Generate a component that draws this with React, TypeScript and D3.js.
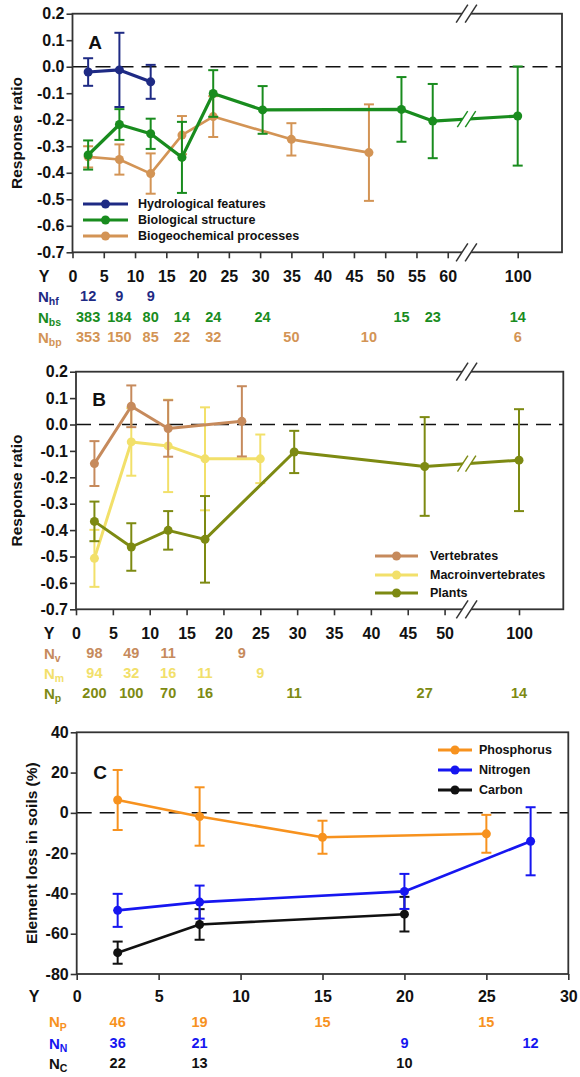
import { useEffect, useRef } from "react";
import * as d3 from "d3";

// ---------- Panel A: response ratio by ecosystem attribute ----------
const aTicksX = [0, 5, 10, 15, 20, 25, 30, 35, 40, 45, 50, 55, 60, 100];
const aTicksY = [-0.7, -0.6, -0.5, -0.4, -0.3, -0.2, -0.1, 0, 0.1, 0.2];

const hfYears = [2.5, 7.5, 12.5];
const hfMean = [-0.02, -0.012, -0.057];
const hfErr = [0.052, 0.14, 0.064];

const bsYears = [2.5, 7.5, 12.5, 17.5, 22.5, 30.4, 52.6, 57.6, 100];
const bsMean = [-0.333, -0.218, -0.253, -0.342, -0.101, -0.163, -0.161, -0.205, -0.186];
const bsErr = [0.055, 0.058, 0.057, 0.134, 0.088, 0.09, 0.122, 0.14, 0.187];

const bpYears = [2.5, 7.5, 12.5, 17.5, 22.5, 35, 47.4];
const bpMean = [-0.34, -0.35, -0.403, -0.258, -0.188, -0.274, -0.324];
const bpErr = [0.04, 0.057, 0.076, 0.072, 0.077, 0.061, 0.182];

const nHf = ["12", "9", "9"];
const nBs = ["383", "184", "80", "14", "24", "24", "15", "23", "14"];
const nBpYears = [2.5, 7.5, 12.5, 17.5, 22.5, 35, 47.4, 100];
const nBp = ["353", "150", "85", "22", "32", "50", "10", "6"];

// ---------- Panel B: response ratio by taxon ----------
const bTicksX = [0, 5, 10, 15, 20, 25, 30, 35, 40, 45, 50, 100];
const bTicksY = aTicksY;

const vYears = [2.5, 7.5, 12.5, 22.5];
const vMean = [-0.148, 0.069, -0.015, 0.012];
const vErr = [0.085, 0.079, 0.107, 0.133];

const mYears = [2.5, 7.5, 12.5, 17.5, 25];
const mMean = [-0.507, -0.066, -0.081, -0.13, -0.13];
const mErr = [0.108, 0.128, 0.175, 0.195, 0.092];

const pYears = [2.5, 7.5, 12.5, 17.5, 29.6, 47.3, 100];
const pMean = [-0.367, -0.464, -0.401, -0.435, -0.104, -0.159, -0.135];
const pErr = [0.075, 0.09, 0.073, 0.164, 0.08, 0.187, 0.193];

const nV = ["98", "49", "11", "9"];
const nM = ["94", "32", "16", "11", "9"];
const nP = ["200", "100", "70", "16", "11", "27", "14"];

// ---------- Panel C: element loss in soils ----------
const cTicksX = [0, 5, 10, 15, 20, 25, 30];
const cTicksY = [-80, -60, -40, -20, 0, 20, 40];

const phYears = [2.5, 7.5, 15, 25];
const phMean = [6.4, -1.8, -12.1, -10.4];
const phErr = [14.9, 14.5, 8.2, 9.4];

const niYears = [2.5, 7.5, 20, 27.7];
const niMean = [-48.4, -44.3, -39, -14.1];
const niErr = [8.2, 8.2, 8.7, 16.9];

const caYears = [2.5, 7.5, 20];
const caMean = [-69.4, -55.4, -50.3];
const caErr = [5.5, 7.6, 8.6];

const nPh = ["46", "19", "15", "15"];
const nNi = ["36", "21", "9", "12"];
const nCa = ["22", "13", "10"];

const FONT = "'Liberation Sans', Arial, Helvetica, sans-serif";

interface Series {
  name: string;
  color: string;
  years: number[];
  mean: number[];
  err: number[];
  lw: number;
}

interface NRow {
  sub: string;
  color: string;
  at: number[];
  labels: string[];
  y: number;
}

interface Panel {
  x: d3.ScaleLinear<number, number>;
  y: d3.ScaleLinear<number, number>;
  xTicks: number[];
  yTicks: number[];
  yFmt: (d: number) => string;
  breakAt?: number;
  series: Series[];
  legend: Series[];
  leg: { x1: number; x2: number; tx: number; ys: number[] };
  letter: string;
  letterPos: [number, number];
  yTitle: string;
  yTitleX: number;
  xPad: number;
  yLabelX: number;
  nX: number;
  nRows: NRow[];
}

const drawBreak = (g: any, cx: number, cy: number, color: string, sw: number, h: number, gap: number) => {
  const dx = h * 0.65;
  const pts = [
    [cx - gap / 2 - dx / 2, cy + h / 2],
    [cx - gap / 2 + dx / 2, cy - h / 2],
    [cx + gap / 2 + dx / 2, cy - h / 2],
    [cx + gap / 2 - dx / 2, cy + h / 2],
  ];
  g.append("polygon").attr("points", pts.map((p) => p.join(",")).join(" ")).attr("fill", "white");
  [-gap / 2, gap / 2].forEach((o) =>
    g
      .append("line")
      .attr("x1", cx + o - dx / 2)
      .attr("y1", cy + h / 2)
      .attr("x2", cx + o + dx / 2)
      .attr("y2", cy - h / 2)
      .attr("stroke", color)
      .attr("stroke-width", sw)
  );
};

const drawPanel = (root: any, p: Panel) => {
  const g = root.append("g");
  const xr = p.x.range();
  const x0 = xr[0];
  const x1 = xr[xr.length - 1];
  const [yb, yt] = p.y.range();

  // zero line
  g.append("line")
    .attr("x1", x0)
    .attr("x2", x1)
    .attr("y1", p.y(0))
    .attr("y2", p.y(0))
    .attr("stroke", "#111")
    .attr("stroke-width", 1.5)
    .attr("stroke-dasharray", "15 8");

  // frame
  g.append("rect")
    .attr("x", x0)
    .attr("y", yt)
    .attr("width", x1 - x0)
    .attr("height", yb - yt)
    .attr("fill", "none")
    .attr("stroke", "#333")
    .attr("stroke-width", 1.8);

  // x axis
  const ax = g
    .append("g")
    .attr("transform", `translate(0,${yb})`)
    .call(d3.axisBottom(p.x).tickValues(p.xTicks).tickSize(6).tickPadding(p.xPad).tickFormat((d) => String(d)));
  ax.select(".domain").remove();
  ax.selectAll("line").attr("stroke", "#333").attr("stroke-width", 1.6);
  ax.attr("font-family", FONT).attr("font-size", 16).attr("font-weight", "bold");
  ax.selectAll("text").attr("fill", "#111");

  // y axis
  const ay = g
    .append("g")
    .attr("transform", `translate(${x0},0)`)
    .call(d3.axisLeft(p.y).tickValues(p.yTicks).tickSize(6).tickPadding(2).tickFormat((d) => p.yFmt(d as number)));
  ay.select(".domain").remove();
  ay.selectAll("line").attr("stroke", "#333").attr("stroke-width", 1.6);
  ay.attr("font-family", FONT).attr("font-size", 16).attr("font-weight", "bold");
  ay.selectAll("text").attr("fill", "#111");

  // axis breaks on the frame
  if (p.breakAt !== undefined) {
    const bx = p.x(p.breakAt);
    drawBreak(g, bx, yt, "#333", 1.5, 18, 9);
    drawBreak(g, bx, yb, "#333", 1.5, 18, 9);
  }

  // series
  p.series.forEach((s) => {
    const pts = s.years.map((yr, i) => [p.x(yr), p.y(s.mean[i])] as [number, number]);
    g.append("path")
      .attr("d", d3.line()(pts))
      .attr("fill", "none")
      .attr("stroke", s.color)
      .attr("stroke-width", s.lw)
      .attr("stroke-linejoin", "round");

    if (p.breakAt !== undefined) {
      const b = p.breakAt;
      const i = s.years.findIndex((yr, k) => yr < b && s.years[k + 1] > b);
      if (i >= 0) {
        const bx = p.x(b);
        const t = (bx - pts[i][0]) / (pts[i + 1][0] - pts[i][0]);
        const by = pts[i][1] + t * (pts[i + 1][1] - pts[i][1]);
        drawBreak(g, bx, by, s.color, 1.4, 16, 8);
      }
    }

    const eb = g.append("g").attr("stroke", s.color).attr("stroke-width", 2);
    s.years.forEach((yr, i) => {
      const cx = p.x(yr);
      const top = p.y(s.mean[i] + s.err[i]);
      const bot = p.y(s.mean[i] - s.err[i]);
      eb.append("line").attr("x1", cx).attr("x2", cx).attr("y1", top).attr("y2", bot);
      eb.append("line").attr("x1", cx - 5).attr("x2", cx + 5).attr("y1", top).attr("y2", top);
      eb.append("line").attr("x1", cx - 5).attr("x2", cx + 5).attr("y1", bot).attr("y2", bot);
    });

    g.append("g")
      .selectAll("circle")
      .data(pts)
      .join("circle")
      .attr("cx", (d) => d[0])
      .attr("cy", (d) => d[1])
      .attr("r", 4.5)
      .attr("fill", s.color);
  });

  // legend
  p.legend.forEach((s, i) => {
    const y = p.leg.ys[i];
    g.append("line")
      .attr("x1", p.leg.x1)
      .attr("x2", p.leg.x2)
      .attr("y1", y)
      .attr("y2", y)
      .attr("stroke", s.color)
      .attr("stroke-width", 3);
    g.append("circle")
      .attr("cx", (p.leg.x1 + p.leg.x2) / 2)
      .attr("cy", y)
      .attr("r", 4.5)
      .attr("fill", s.color);
    g.append("text")
      .attr("x", p.leg.tx)
      .attr("y", y)
      .attr("dy", "0.35em")
      .attr("font-family", FONT)
      .attr("font-size", 12.5)
      .attr("font-weight", "bold")
      .attr("fill", "#111")
      .text(s.name);
  });

  // panel letter
  g.append("text")
    .attr("x", p.letterPos[0])
    .attr("y", p.letterPos[1])
    .attr("dy", "0.35em")
    .attr("text-anchor", "middle")
    .attr("font-family", FONT)
    .attr("font-size", 19)
    .attr("font-weight", "bold")
    .attr("fill", "#111")
    .text(p.letter);

  // y title
  g.append("text")
    .attr("transform", `translate(${p.yTitleX},${(yt + yb) / 2}) rotate(-90)`)
    .attr("dy", "0.35em")
    .attr("text-anchor", "middle")
    .attr("font-family", FONT)
    .attr("font-size", 15.5)
    .attr("font-weight", "bold")
    .attr("fill", "#111")
    .text(p.yTitle);

  // "Y" row label
  const tickRowY = yb + 6 + p.xPad + 5.6;
  g.append("text")
    .attr("x", p.yLabelX)
    .attr("y", tickRowY)
    .attr("dy", "0.35em")
    .attr("text-anchor", "middle")
    .attr("font-family", FONT)
    .attr("font-size", 16)
    .attr("font-weight", "bold")
    .attr("fill", "#111")
    .text("Y");

  // sample size rows
  p.nRows.forEach((r) => {
    const t = g
      .append("text")
      .attr("x", p.nX)
      .attr("y", r.y)
      .attr("dy", "0.35em")
      .attr("font-family", FONT)
      .attr("font-weight", "bold")
      .attr("fill", r.color);
    t.append("tspan").attr("font-size", 15).text("N");
    t.append("tspan").attr("font-size", 10.5).attr("dy", 3.5).text(r.sub);

    g.append("g")
      .selectAll("text")
      .data(r.labels)
      .join("text")
      .attr("x", (_: string, i: number) => p.x(r.at[i]))
      .attr("y", r.y)
      .attr("dy", "0.35em")
      .attr("text-anchor", "middle")
      .attr("font-family", FONT)
      .attr("font-size", 14.5)
      .attr("font-weight", "bold")
      .attr("fill", r.color)
      .text((d: string) => d);
  });
};

const App = () => {
  const ref = useRef<SVGSVGElement | null>(null);

  useEffect(() => {
    const svg = d3.select(ref.current);
    svg.selectAll("*").remove();

    const navy = "#1E2A84";
    const green = "#198C1E";
    const tan = "#D39455";
    const brown = "#C68A5C";
    const yellow = "#F2E06A";
    const olive = "#7D8A12";
    const orange = "#F7921E";
    const blue = "#1616F0";
    const black = "#111111";

    const fmt1 = (d: number) => d.toFixed(1);

    // Panel A
    const hf: Series = { name: "Hydrological features", color: navy, years: hfYears, mean: hfMean, err: hfErr, lw: 3.2 };
    const bs: Series = { name: "Biological structure", color: green, years: bsYears, mean: bsMean, err: bsErr, lw: 3.2 };
    const bp: Series = { name: "Biogeochemical processes", color: tan, years: bpYears, mean: bpMean, err: bpErr, lw: 2.6 };
    drawPanel(svg, {
      x: d3.scaleLinear().domain([0, 63, 100, 107.3]).range([72.5, 466.5, 517.7, 562]),
      y: d3.scaleLinear().domain([-0.7, 0.2]).range([252.3, 13.7]),
      xTicks: aTicksX,
      yTicks: aTicksY,
      yFmt: fmt1,
      breakAt: 63,
      series: [bp, bs, hf],
      legend: [hf, bs, bp],
      leg: { x1: 83, x2: 128, tx: 138, ys: [204, 220, 236] },
      letter: "A",
      letterPos: [95, 42],
      yTitle: "Response ratio",
      yTitleX: 17,
      xPad: 12,
      yLabelX: 44,
      nX: 38,
      nRows: [
        { sub: "hf", color: navy, at: hfYears, labels: nHf, y: 296 },
        { sub: "bs", color: green, at: bsYears, labels: nBs, y: 317 },
        { sub: "bp", color: tan, at: nBpYears, labels: nBp, y: 337 },
      ],
    });

    // Panel B
    const ve: Series = { name: "Vertebrates", color: brown, years: vYears, mean: vMean, err: vErr, lw: 3 };
    const ma: Series = { name: "Macroinvertebrates", color: yellow, years: mYears, mean: mMean, err: mErr, lw: 3 };
    const pl: Series = { name: "Plants", color: olive, years: pYears, mean: pMean, err: pErr, lw: 3 };
    drawPanel(svg, {
      x: d3.scaleLinear().domain([0, 53, 100, 106]).range([76, 466.7, 519, 563.3]),
      y: d3.scaleLinear().domain([-0.7, 0.2]).range([609.3, 371.7]),
      xTicks: bTicksX,
      yTicks: bTicksY,
      yFmt: fmt1,
      breakAt: 53,
      series: [ma, pl, ve],
      legend: [ve, ma, pl],
      leg: { x1: 375, x2: 418, tx: 430, ys: [556, 575, 593] },
      letter: "B",
      letterPos: [99, 399],
      yTitle: "Response ratio",
      yTitleX: 17,
      xPad: 12.3,
      yLabelX: 49,
      nX: 44,
      nRows: [
        { sub: "v", color: brown, at: vYears, labels: nV, y: 653 },
        { sub: "m", color: yellow, at: mYears, labels: nM, y: 673 },
        { sub: "p", color: olive, at: pYears, labels: nP, y: 693 },
      ],
    });

    // Panel C
    const ph: Series = { name: "Phosphorus", color: orange, years: phYears, mean: phMean, err: phErr, lw: 2.6 };
    const ni: Series = { name: "Nitrogen", color: blue, years: niYears, mean: niMean, err: niErr, lw: 2.6 };
    const ca: Series = { name: "Carbon", color: black, years: caYears, mean: caMean, err: caErr, lw: 2.6 };
    drawPanel(svg, {
      x: d3.scaleLinear().domain([0, 30]).range([76.7, 568.3]),
      y: d3.scaleLinear().domain([-80, 40]).range([974, 732.3]),
      xTicks: cTicksX,
      yTicks: cTicksY,
      yFmt: (d) => String(d),
      series: [ca, ni, ph],
      legend: [ph, ni, ca],
      leg: { x1: 438, x2: 472, tx: 479, ys: [750, 770, 790] },
      letter: "C",
      letterPos: [100, 772],
      yTitle: "Element loss in soils (%)",
      yTitleX: 32,
      xPad: 10.3,
      yLabelX: 34,
      nX: 49,
      nRows: [
        { sub: "P", color: orange, at: phYears, labels: nPh, y: 1021.7 },
        { sub: "N", color: blue, at: niYears, labels: nNi, y: 1043 },
        { sub: "C", color: black, at: caYears, labels: nCa, y: 1063 },
      ],
    });
  }, []);

  return (
    <div style={{ position: "absolute", left: 0, top: 0, background: "white" }}>
      <svg ref={ref} width={580} height={1077} style={{ display: "block" }} />
    </div>
  );
};

export default App;
